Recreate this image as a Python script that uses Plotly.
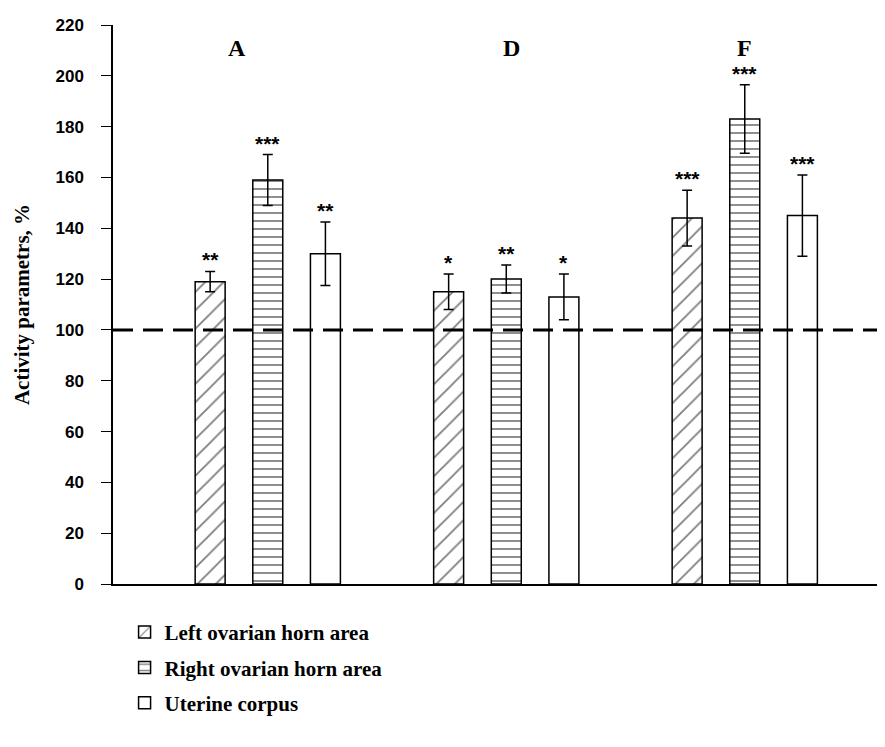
import plotly.graph_objects as go

groups = ["A", "D", "F"]
series_names = ["Left ovarian horn area", "Right ovarian horn area", "Uterine corpus"]
left_vals = [119, 115, 144]
left_err = [4, 7, 11]
right_vals = [159, 120, 183]
right_err = [10, 5.5, 13.5]
uter_vals = [130, 113, 145]
uter_err = [12.5, 9, 16]
left_stars = ["**", "*", "***"]
right_stars = ["***", "**", "***"]
uter_stars = ["**", "*", "***"]
reference_level = 100
y_ticks = list(range(0, 221, 20))

serif = "Liberation Serif, Times New Roman, serif"
sans = "Liberation Sans, Arial, sans-serif"

fig = go.Figure()
patterns = ["/", "-", ""]
sizes = [13, 8, 8]
solid = [0.14, 0.22, 0.2]
vals = [left_vals, right_vals, uter_vals]
errs = [left_err, right_err, uter_err]
stars = [left_stars, right_stars, uter_stars]
for i in range(3):
    fig.add_trace(go.Bar(
        x=groups, y=vals[i], name=series_names[i],
        legendgroup=f"g{i}",
        marker=dict(color="white", line=dict(color="black", width=1.5),
                    pattern=dict(shape=patterns[i], fgcolor="black", bgcolor="white",
                                 size=sizes[i], solidity=solid[i])),
        error_y=dict(type="data", array=errs[i], color="black", thickness=1.5, width=5),
    ))

fig.update_layout(barmode="group", bargap=0.275, bargroupgap=0.48)

offsets = [-0.2416, 0, 0.2416]
annotations = []
for i in range(3):
    for j in range(3):
        annotations.append(dict(
            x=j + offsets[i], y=vals[i][j] + errs[i][j], xref="x", yref="y",
            text=stars[i][j], showarrow=False, yanchor="bottom", yshift=-2,
            font=dict(family=sans, size=21, color="black", weight="bold"),
        ))
label_x = [-0.13, 1.02, 2.0]
for j, g in enumerate(groups):
    annotations.append(dict(
        x=label_x[j], y=1.0, xref="x", yref="paper", text=g,
        showarrow=False, yanchor="middle", yshift=-23,
        font=dict(family=serif, size=24, color="black", weight="bold"),
    ))
fig.update_layout(annotations=annotations)

fig.add_shape(type="line", xref="paper", yref="y", x0=0, x1=1,
              y0=reference_level, y1=reference_level,
              line=dict(color="black", width=3, dash="20px,10px"))

fig.update_layout(
    width=885, height=747,
    margin=dict(l=105, r=8, t=17, b=171),
    plot_bgcolor="white", paper_bgcolor="white",
    showlegend=True,
    legend=dict(x=0.015, y=-0.05, xanchor="left", yanchor="top",
                font=dict(family=serif, size=21, color="black", weight="bold"),
                tracegroupgap=5, bgcolor="rgba(0,0,0,0)",
                itemwidth=30),
    xaxis=dict(range=[-0.649, 2.588], showticklabels=False, ticks="",
               showline=True, linecolor="black", linewidth=1.5, showgrid=False,
               zeroline=False),
    yaxis=dict(range=[0, 220], tickvals=y_ticks, ticks="outside", ticklen=10,
               tickwidth=1.2, tickcolor="black", ticklabelstandoff=14,
               showline=True, linecolor="black", linewidth=1.5, showgrid=False,
               zeroline=False,
               tickfont=dict(family=sans, size=17, color="black", weight="bold"),
               title=dict(text="Activity parametrs, %",
                          font=dict(family=serif, size=21, color="black", weight="bold"),
                          standoff=20)),
)

fig.write_html("out.html")
